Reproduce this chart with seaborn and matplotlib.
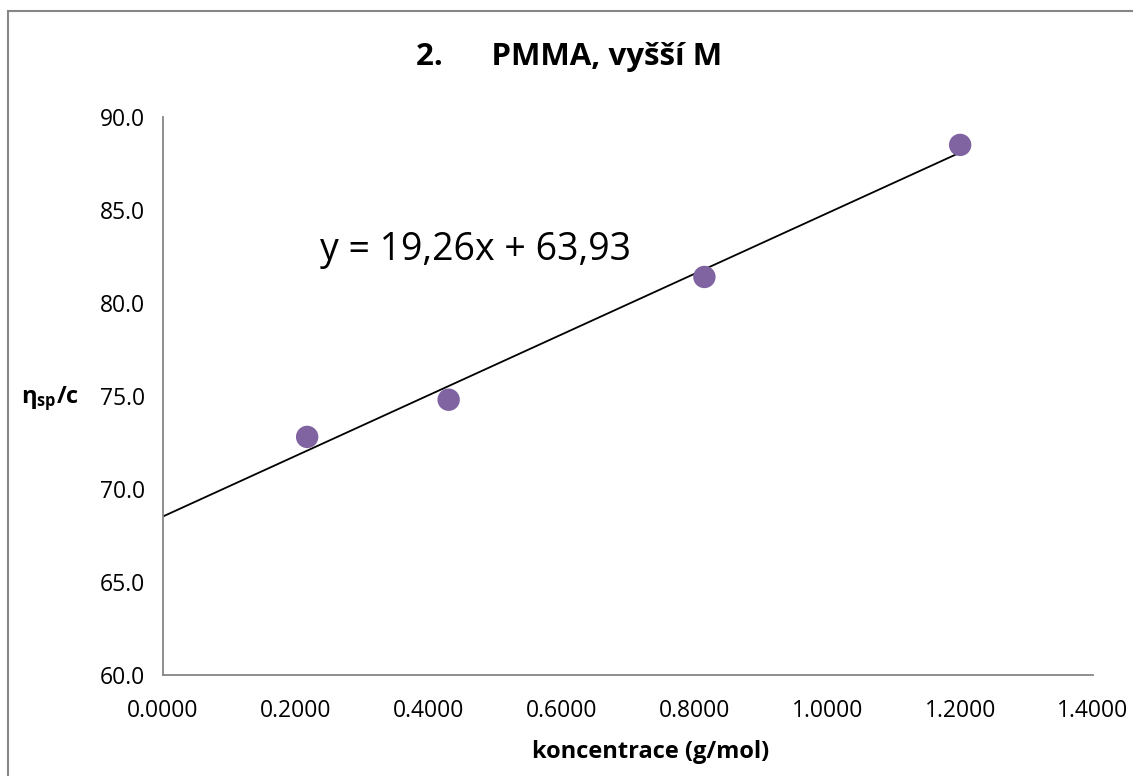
import numpy as np
import pandas as pd
import seaborn as sns
import matplotlib
matplotlib.use("Agg")
import matplotlib.pyplot as plt
from matplotlib.patches import Rectangle
from matplotlib.ticker import FormatStrFormatter

# measured data: concentration vs. reduced viscosity
koncentrace = [0.217, 0.430, 0.815, 1.200]
eta_sp_c = [72.8, 74.8, 81.4, 88.5]
x_ticks = [0.0, 0.2, 0.4, 0.6, 0.8, 1.0, 1.2, 1.4]
y_ticks = [60.0, 65.0, 70.0, 75.0, 80.0, 85.0, 90.0]

title = "2.      PMMA, vyšší M"
equation = "y = 19,26x + 63,93"
x_label = "koncentrace (g/mol)"

sns.set_theme(style="white")
plt.rcParams["font.family"] = ["Open Sans", "DejaVu Sans"]
plt.rcParams["text.color"] = "black"
plt.rcParams["mathtext.fontset"] = "custom"
plt.rcParams["mathtext.bf"] = "Open Sans:bold"
plt.rcParams["mathtext.rm"] = "Open Sans"

df = pd.DataFrame({"c": koncentrace, "eta": eta_sp_c})

fig = plt.figure(figsize=(11.33, 7.76), dpi=100)
ax = fig.add_axes([163 / 1133, 1 - 675 / 776, (1093 - 163) / 1133, (675 - 117) / 776])

# linear trendline, extended back to zero concentration
slope, intercept = np.polyfit(df["c"], df["eta"], 1)
trend = pd.DataFrame({"c": [0.0, max(koncentrace)]})
trend["eta"] = slope * trend["c"] + intercept
sns.lineplot(data=trend, x="c", y="eta", ax=ax, color="black", lw=1.3, zorder=2)

sns.scatterplot(data=df, x="c", y="eta", ax=ax, color="#8064A2", s=260,
                edgecolor="none", zorder=3)

ax.set_xlim(0, 1.4)
ax.set_ylim(60, 90)
ax.set_xticks(x_ticks)
ax.set_yticks(y_ticks)
ax.xaxis.set_major_formatter(FormatStrFormatter("%.4f"))
ax.yaxis.set_major_formatter(FormatStrFormatter("%.1f"))

for side in ["top", "right"]:
    ax.spines[side].set_visible(False)
for side in ["left", "bottom"]:
    ax.spines[side].set_color("#868686")
    ax.spines[side].set_linewidth(1.3)
ax.tick_params(axis="both", which="major", direction="out", length=6, width=1.3,
               color="#868686", labelsize=16.5, labelcolor="black", pad=7)
ax.tick_params(axis="x", pad=11)
ax.set_xlabel("")
ax.set_ylabel("")

fig.text(569 / 1133, 1 - 57 / 776, title, ha="center", va="center",
         fontsize=22.5, fontweight="bold")
fig.text(651 / 1133, 1 - 752 / 776, x_label, ha="center", va="center",
         fontsize=17, fontweight="bold")
fig.text(50 / 1133, 1 - 399 / 776, r"$\mathbf{\eta_{sp}/c}$", ha="center",
         va="center", fontsize=17)
ax.text(0.47, 82.85, equation, fontsize=27, ha="center", va="center")

# chart frame
fig.patches.append(Rectangle((7.5 / 1133, -0.2), 1.2, 1.2 - 10.5 / 776,
                             transform=fig.transFigure, fill=False,
                             edgecolor="#868686", lw=1.5, clip_on=False))

fig.savefig("out.png", dpi=100)
